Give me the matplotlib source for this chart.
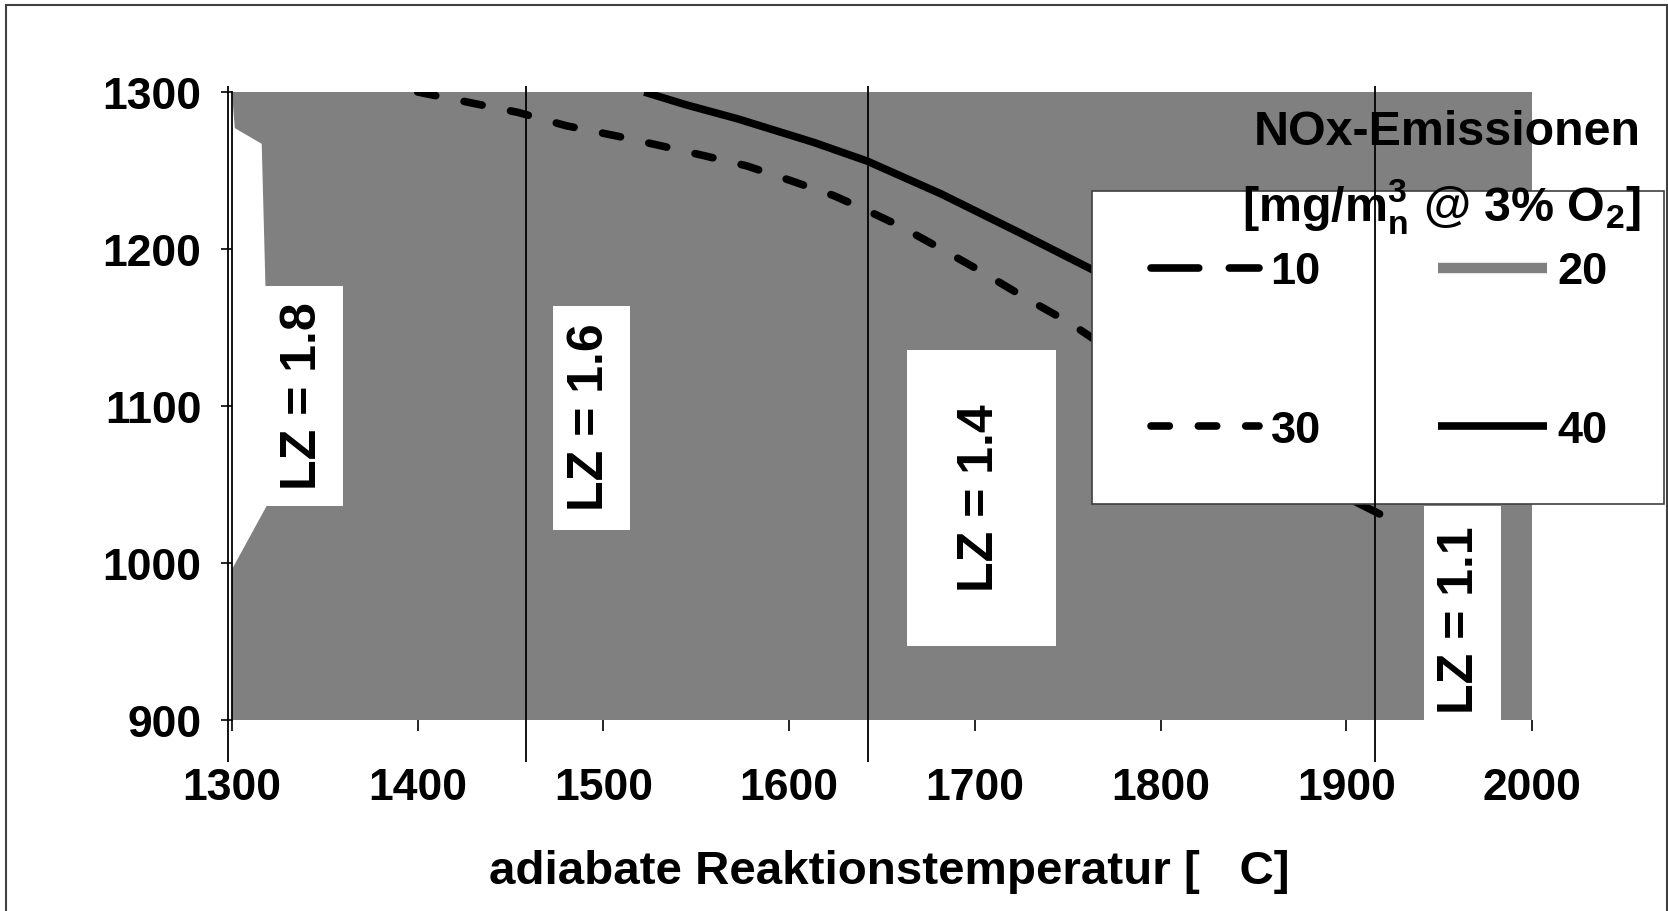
import matplotlib
matplotlib.use("Agg")
import matplotlib.pyplot as plt
from matplotlib.patches import Rectangle
from matplotlib.lines import Line2D

plt.rcParams["font.family"] = "Liberation Sans"
plt.rcParams["font.weight"] = "bold"
plt.rcParams["mathtext.fontset"] = "custom"
plt.rcParams["mathtext.rm"] = "Liberation Sans:bold"
plt.rcParams["mathtext.it"] = "Liberation Sans:bold"
plt.rcParams["mathtext.bf"] = "Liberation Sans:bold"

# ------------------------------------------------------------------
# Data
# ------------------------------------------------------------------

# NOx = 20 band (grey area)
band20_x = [1300, 1300, 1318.5, 1318, 1316, 1301.5, 1300, 2000, 2000]
band20_y = [900, 996, 1036, 1177, 1267, 1277, 1300, 1300, 900]

# NOx = 10 (long dash), only its end shows below the legend
nox10_x = [1895, 1920]
nox10_y = [1045, 1030]

# NOx = 30 (short dash)
nox30_x = [1400, 1454, 1480, 1507, 1530, 1554, 1577, 1601, 1624, 1642,
           1659, 1682, 1703, 1727, 1751, 1775]
nox30_y = [1300, 1287, 1278.5, 1272, 1266, 1259.5, 1253, 1243.5, 1234, 1224.5,
           1215, 1200, 1186, 1169, 1153, 1134]

# NOx = 40 (solid)
nox40_x = [1522, 1544, 1572, 1613, 1642, 1682, 1723, 1763, 1790]
nox40_y = [1300, 1292, 1283, 1268, 1256, 1235, 1211, 1187, 1168]

# lines of constant air ratio
lz_lines_x = [1297.8, 1458.5, 1642.2, 1915.2]

lz_labels = ["LZ = 1.8", "LZ = 1.6", "LZ = 1.4", "LZ = 1.1"]
lz_text_x = [1338, 1492.8, 1702.6, 1961.4]
lz_text_y = [1107, 1093.3, 1042, 964.3]
lz_box_x0 = [1317.8, 1472.7, 1663.5, 1942.0]
lz_box_x1 = [1359.6, 1514.4, 1743.8, 1983.5]
lz_box_y0 = [1036.5, 1021.2, 947.1, 900]
lz_box_y1 = [1176.6, 1163.9, 1135.7, 1036.3]

x_ticks = [1300, 1400, 1500, 1600, 1700, 1800, 1900, 2000]
y_ticks = [900, 1000, 1100, 1200, 1300]

W, H = 1668, 912
GREY = "#808080"
LONG_DASH = (0, (6.25, 4))
SHORT_DASH = (0, (2.4, 3.8))

fig = plt.figure(figsize=(W / 100, H / 100), dpi=100)
ax = fig.add_axes([232 / W, 1 - 721 / H, 1300 / W, 628 / H])

# grey band
ax.fill(band20_x, band20_y, color=GREY, lw=0, zorder=1)

# label boxes
for lab, tx, ty, x0, x1, y0, y1 in zip(lz_labels, lz_text_x, lz_text_y,
                                       lz_box_x0, lz_box_x1, lz_box_y0, lz_box_y1):
    ax.add_patch(Rectangle((x0, y0), x1 - x0, y1 - y0, fc="white", ec="none", zorder=2))
    ax.text(tx, ty, lab, rotation=90, ha="center", va="center", fontsize=36,
            fontweight="bold", zorder=3)

# curves
lw = 5.5
ax.plot(nox10_x, nox10_y, color="black", lw=lw, ls=LONG_DASH,
        dash_capstyle="round", zorder=3)
ax.plot(nox30_x, nox30_y, color="black", lw=lw, ls=SHORT_DASH,
        dash_capstyle="round", zorder=3)
ax.plot(nox40_x, nox40_y, color="black", lw=lw, solid_capstyle="butt", zorder=3)

# vertical LZ lines, running past the plot area
ax.vlines(lz_lines_x, 873, 1304, colors="black", lw=1.3, zorder=6, clip_on=False)

ax.set_xlim(1300, 2000)
ax.set_ylim(900, 1300)
ax.set_xticks(x_ticks)
ax.set_yticks(y_ticks)
for s in ("top", "right", "bottom"):
    ax.spines[s].set_visible(False)
ax.spines["left"].set_linewidth(1.3)
ax.tick_params(axis="both", labelsize=32, width=1.2, length=8, direction="out")
ax.tick_params(axis="x", pad=26)
ax.tick_params(axis="y", pad=14)
for t in ax.get_xticklabels() + ax.get_yticklabels():
    t.set_fontweight("bold")

fig.text(889 / W, 1 - 884 / H, "adiabate Reaktionstemperatur [   C]", ha="center",
         va="baseline", fontsize=34.2, fontweight="bold")

# legend box + legend
ax.add_artist(Rectangle((1092 / W, 1 - 505 / H), (1664 - 1092) / W, (505 - 192) / H,
                        transform=fig.transFigure, fc="white", ec="#404040", lw=1.2,
                        zorder=4, clip_on=False))
handles = [
    Line2D([], [], color="black", lw=lw, ls=LONG_DASH, dash_capstyle="round"),
    Line2D([], [], color="black", lw=lw, ls=SHORT_DASH, dash_capstyle="round"),
    Line2D([], [], color=GREY, lw=7.5, solid_capstyle="butt"),
    Line2D([], [], color="black", lw=lw, solid_capstyle="butt"),
]
leg = ax.legend(handles, ["10", "30", "20", "40"], ncol=2, loc="center",
                bbox_to_anchor=(1379.5 / W, 1 - 352 / H), bbox_transform=fig.transFigure,
                frameon=False, prop={"size": 32.5, "weight": "bold"}, handlelength=2.4,
                handletextpad=0.25, columnspacing=2.6, labelspacing=2.6, borderpad=0)
leg.set_zorder(5)

ax.text(1641 / W, 1 - 145 / H, "NOx-Emissionen", transform=fig.transFigure,
        ha="right", va="baseline", fontsize=34.8, fontweight="bold", zorder=5)
ax.text(1641 / W, 1 - 221 / H, r"[mg/m$_n^3$ @ 3% O$_2$]", transform=fig.transFigure,
        ha="right", va="baseline", fontsize=34.8, fontweight="bold", zorder=5)

# outer frame
fig.patches.append(Rectangle((5.5 / W, -0.05), (1666.5 - 5.5) / W, 1.05 - 5.5 / H,
                             transform=fig.transFigure, fill=False, ec="#404040",
                             lw=1.5))

fig.savefig("out.png", dpi=100)
